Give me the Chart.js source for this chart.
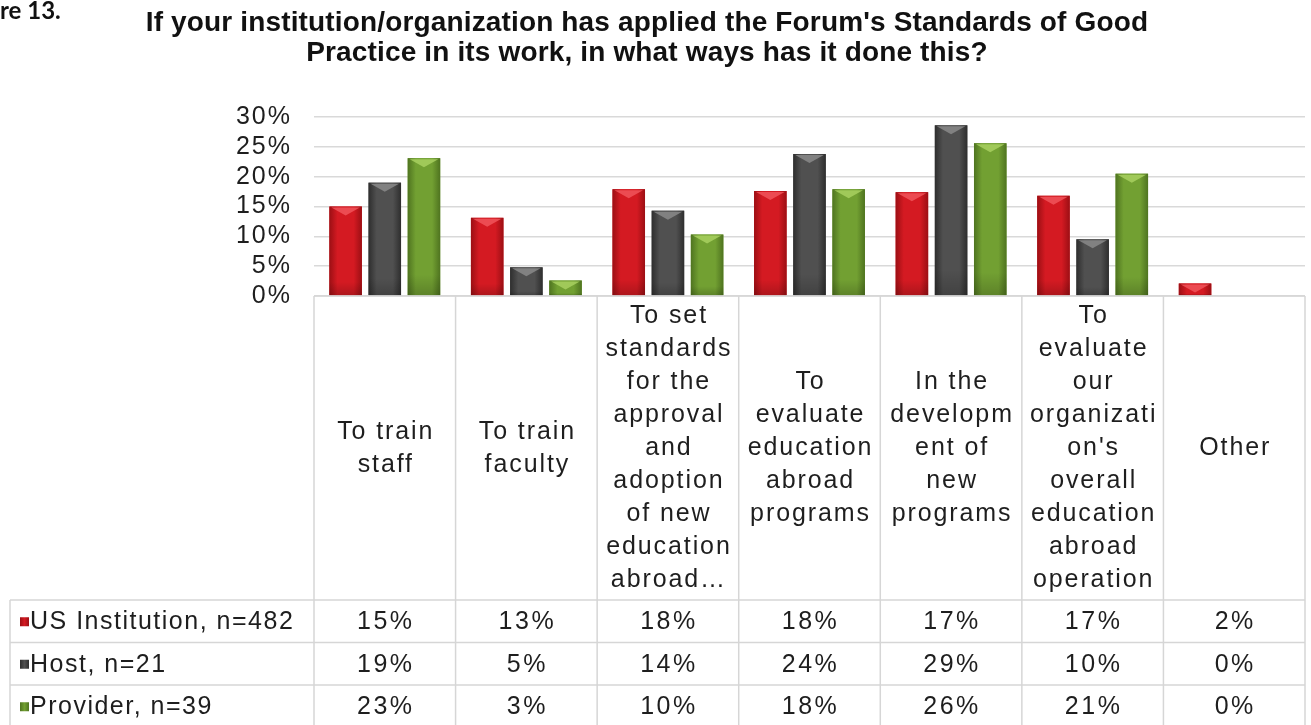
<!DOCTYPE html>
<html><head><meta charset="utf-8">
<script src="https://cdn.jsdelivr.net/npm/chart.js@4.4.1/dist/chart.umd.min.js"></script>
<style>
html,body{margin:0;padding:0;background:#fff;width:1311px;height:725px;overflow:hidden;}
#wrap{position:relative;width:1311px;height:725px;overflow:hidden;}
canvas{position:absolute;left:0;top:0;}
.fig{position:absolute;left:0;top:-2px;font:bold 24px Lato, "Open Sans", sans-serif;line-height:24px;color:#111;}
.title{position:absolute;left:0;width:1294px;top:7px;text-align:center;font:bold 28px "Liberation Sans", Arial, sans-serif;line-height:30px;color:#111;letter-spacing:0.15px;}
</style></head>
<body><div id="wrap"><canvas id="c" width="1311" height="725"></canvas>
<div class="fig">re 13.</div>
<div class="title">If your institution/organization has applied the Forum's Standards of Good<br>Practice in its work, in what ways has it done this?</div></div>
<script>
// ---- data ----
const categories = [
  ["To train","staff"],
  ["To train","faculty"],
  ["To set","standards","for the","approval","and","adoption","of new","education","abroad…"],
  ["To","evaluate","education","abroad","programs"],
  ["In the","developm","ent of","new","programs"],
  ["To","evaluate","our","organizati","on's","overall","education","abroad","operation"],
  ["Other"]
];
const seriesNames = ["US Institution, n=482", "Host, n=21", "Provider, n=39"];
const usInstitution = [15.0, 13.1, 17.9, 17.6, 17.4, 16.8, 2.1];
const host          = [19.0, 4.8, 14.3, 23.8, 28.6, 9.5, 0];
const provider      = [23.1, 2.6, 10.3, 17.9, 25.6, 20.5, 0];
const yTicks = [0, 5, 10, 15, 20, 25, 30];

const baseColors = ["#d41a22", "#505050", "#72a032"];
const edgeColors = ["#9c0f14", "#2e2e2e", "#4f7420"];
const hiColors   = ["#f0555a", "#8a8a8a", "#a8d060"];

const FONT = '"Liberation Sans", Arial, sans-serif';
const TABLE = { headerBottom: 600, rowH: 42.5, labelLeft: 10, line: "#d6d6d6", text: "#1e1e1e", headLineH: 33 };

const spacing = {
  id: "spacing",
  beforeDraw(chart) { chart.ctx.letterSpacing = "2px"; }
};

const barDeco = {
  id: "barDeco",
  afterDatasetsDraw(chart) {
    const ctx = chart.ctx;
    chart.data.datasets.forEach((ds, di) => {
      chart.getDatasetMeta(di).data.forEach(bar => {
        const w = bar.width, x0 = bar.x - w / 2, top = bar.y, bot = bar.base;
        const h = bot - top;
        if (h <= 0.5) return;
        ctx.save();
        const g = ctx.createLinearGradient(x0, 0, x0 + w, 0);
        g.addColorStop(0, edgeColors[di]);
        g.addColorStop(0.25, baseColors[di]);
        g.addColorStop(0.75, baseColors[di]);
        g.addColorStop(1, edgeColors[di]);
        ctx.fillStyle = g;
        ctx.fillRect(x0, top, w, h);
        const vg = ctx.createLinearGradient(0, top, 0, bot);
        vg.addColorStop(0, "rgba(0,0,0,0)");
        vg.addColorStop(0.85, "rgba(0,0,0,0)");
        vg.addColorStop(1, "rgba(0,0,0,0.18)");
        ctx.fillStyle = vg;
        ctx.fillRect(x0, top, w, h);
        ctx.fillStyle = hiColors[di];
        const th = Math.min(8, h - 1);
        ctx.beginPath();
        ctx.moveTo(x0 + 2, top + 1);
        ctx.lineTo(x0 + w - 2, top + 1);
        ctx.lineTo(bar.x, top + 1 + th);
        ctx.closePath();
        ctx.globalAlpha = 0.85;
        ctx.fill();
        ctx.restore();
      });
    });
  }
};

const dataTable = {
  id: "dataTable",
  afterDraw(chart) {
    const ctx = chart.ctx, xs = chart.scales.x, area = chart.chartArea;
    const n = categories.length;
    const colW = (area.right - area.left) / n;
    const yTop = area.bottom;
    const hb = TABLE.headerBottom;
    const rows = chart.data.datasets.length;
    const yEnd = hb + rows * TABLE.rowH;
    ctx.save();
    ctx.strokeStyle = TABLE.line;
    ctx.lineWidth = 1.5;
    ctx.beginPath();
    ctx.moveTo(area.left, yTop); ctx.lineTo(area.right, yTop);
    for (let r = 0; r <= rows; r++) {
      const y = hb + r * TABLE.rowH;
      ctx.moveTo(TABLE.labelLeft, y); ctx.lineTo(area.right, y);
    }
    for (let c = 0; c <= n; c++) {
      const x = area.left + c * colW;
      ctx.moveTo(x, yTop); ctx.lineTo(x, yEnd);
    }
    ctx.moveTo(TABLE.labelLeft, hb); ctx.lineTo(TABLE.labelLeft, yEnd);
    ctx.stroke();

    ctx.fillStyle = TABLE.text;
    ctx.font = "25px " + FONT;
    ctx.textBaseline = "middle";
    ctx.textAlign = "center";
    ctx.letterSpacing = "1.9px";
    const hc = (yTop + hb) / 2 + 0.5;
    categories.forEach((lines, i) => {
      const cx = xs.getPixelForValue(i) + 1;
      const y0 = hc - (lines.length - 1) * TABLE.headLineH / 2;
      lines.forEach((t, k) => ctx.fillText(t, cx, y0 + k * TABLE.headLineH));
    });
    chart.data.datasets.forEach((ds, r) => {
      const cy = hb + r * TABLE.rowH + TABLE.rowH / 2 + 1;
      ctx.textAlign = "center";
      ctx.letterSpacing = "2.5px";
      ds.data.forEach((v, i) => {
        ctx.fillText(Math.round(v) + "%", xs.getPixelForValue(i) + 1, cy);
      });
      const g = ctx.createLinearGradient(20, 0, 29, 0);
      g.addColorStop(0, edgeColors[r]); g.addColorStop(0.5, baseColors[r]); g.addColorStop(1, edgeColors[r]);
      ctx.fillStyle = g;
      ctx.fillRect(20, cy - 5, 9, 9);
      ctx.fillStyle = TABLE.text;
      ctx.textAlign = "left";
      ctx.letterSpacing = "1.5px";
      ctx.fillText(ds.label, 30, cy);
    });
    ctx.restore();
  }
};

new Chart(document.getElementById("c"), {
  type: "bar",
  data: {
    labels: categories.map(l => l.join(" ")),
    datasets: [
      { label: seriesNames[0], data: usInstitution, backgroundColor: baseColors[0] },
      { label: seriesNames[1], data: host, backgroundColor: baseColors[1] },
      { label: seriesNames[2], data: provider, backgroundColor: baseColors[2] }
    ]
  },
  options: {
    responsive: false,
    animation: false,
    devicePixelRatio: 1,
    categoryPercentage: 0.83,
    barPercentage: 0.83,
    layout: { padding: { left: 0, right: 6, top: 117, bottom: 429 } },
    plugins: { legend: { display: false }, title: { display: false }, tooltip: { enabled: false } },
    scales: {
      x: { display: false, grid: { display: false } },
      y: {
        min: 0, max: 30,
        afterFit(s) { s.width = 314; },
        afterBuildTicks(s) { s.ticks = yTicks.map(v => ({ value: v })); },
        ticks: { autoSkip: false, callback: v => v + "%", color: "#1e1e1e", padding: 22, font: { family: FONT, size: 25 } },
        grid: { color: "#d9d9d9", lineWidth: 1.5, drawTicks: false },
        border: { display: false }
      }
    }
  },
  plugins: [spacing, barDeco, dataTable]
});
</script>
</body></html>
